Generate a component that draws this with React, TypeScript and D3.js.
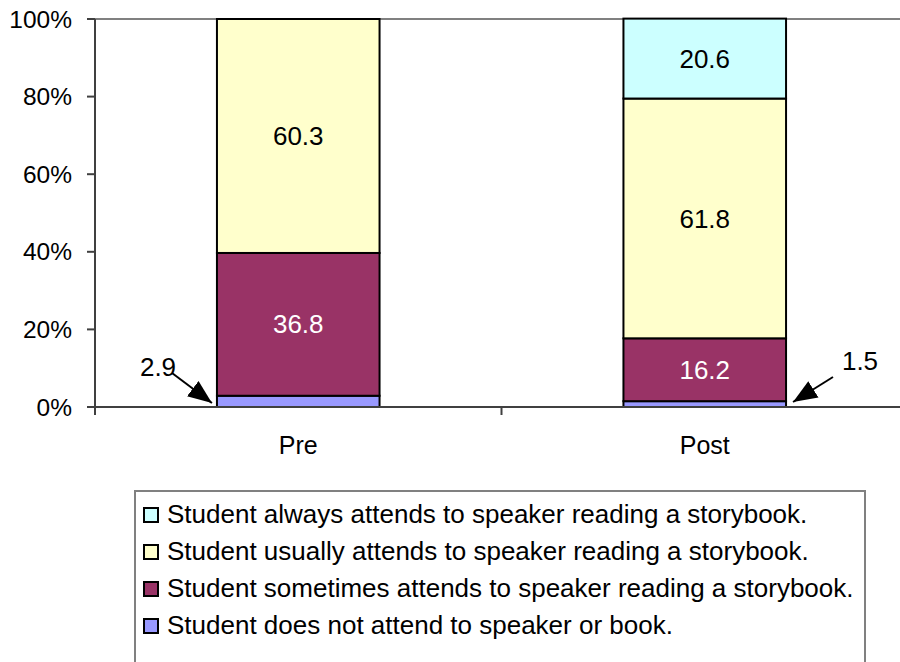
import React from "react";
import * as d3 from "d3";

const categories = ["Pre", "Post"];
const seriesNames = [
  "Student does not attend to speaker or book.",
  "Student sometimes attends to speaker reading a storybook.",
  "Student usually attends to speaker reading a storybook.",
  "Student always attends to speaker reading a storybook.",
];
const notAttend = [2.9, 1.5];
const sometimes = [36.8, 16.2];
const usually = [60.3, 61.8];
const always = [0, 20.6];
const seriesColors = ["#9999FF", "#993366", "#FFFFCC", "#CCFFFF"];
const labelColors = ["#000", "#fff", "#000", "#000"];
const yTicks = [0, 20, 40, 60, 80, 100];

const W = 900;
const H = 662;
const left = 95;
const right = 908;
const top = 19;
const bottom = 407;
const font = "Liberation Sans, Arial, sans-serif";

export default function App() {
  const values = [notAttend, sometimes, usually, always];
  const x = d3.scaleBand<string>().domain(categories).range([left, right]).paddingInner(0.6).paddingOuter(0.3);
  const y = d3.scaleLinear().domain([0, 100]).range([bottom, top]);
  const table = categories.map((c, i) => {
    const o: any = { cat: c };
    seriesNames.forEach((s, j) => (o[s] = values[j][i]));
    return o;
  });
  const stacked = d3.stack<any>().keys(seriesNames)(table);
  const step = x.step();

  const preX = x("Pre")!;
  const postX = x("Post")! + x.bandwidth();

  return (
    <svg width={W} height={H} style={{ display: "block", position: "absolute", left: 0, top: 0 }} fontFamily={font}>
      <defs>
        <marker id="ah" viewBox="0 0 10 10" refX="10" refY="5" markerWidth="24" markerHeight="24" markerUnits="userSpaceOnUse" orient="auto">
          <path d="M0,1 L10,5 L0,9 Z" fill="#000" />
        </marker>
      </defs>
      <rect width={W} height={H} fill="#fff" />
      <line x1={left - 8} x2={W} y1={y(100)} y2={y(100)} stroke="#808080" strokeWidth={2} />
      {stacked.map((layer, j) =>
        layer.map((d, i) => {
          const v = values[j][i];
          if (!v) return null;
          const bx = x(categories[i])!;
          return (
            <rect key={j + "-" + i} x={bx} y={y(d[1])} width={x.bandwidth()} height={y(d[0]) - y(d[1])}
              fill={seriesColors[j]} stroke="#000" strokeWidth={2} />
          );
        })
      )}
      {stacked.map((layer, j) =>
        layer.map((d, i) => {
          const v = values[j][i];
          if (!v || j === 0) return null;
          return (
            <text key={"l" + j + "-" + i} x={x(categories[i])! + x.bandwidth() / 2} y={y((d[0] + d[1]) / 2)}
              dy="0.35em" textAnchor="middle" fontSize={26} fill={labelColors[j]}>
              {v.toFixed(1)}
            </text>
          );
        })
      )}
      <line x1={left} x2={left} y1={top} y2={bottom + 8} stroke="#404040" strokeWidth={2} />
      <line x1={left} x2={W} y1={bottom} y2={bottom} stroke="#404040" strokeWidth={2} />
      {yTicks.map((t) => (
        <g key={t}>
          <line x1={left - 8} x2={left} y1={y(t)} y2={y(t)} stroke="#404040" strokeWidth={2} />
          <text x={72} y={y(t)} dy="0.35em" textAnchor="end" fontSize={24.5} fill="#000">{t}%</text>
        </g>
      ))}
      {[1].map((k) => (
        <line key={k} x1={left + step * k} x2={left + step * k} y1={bottom} y2={bottom + 8} stroke="#404040" strokeWidth={2} />
      ))}
      {categories.map((c) => (
        <text key={c} x={x(c)! + x.bandwidth() / 2} y={454} textAnchor="middle" fontSize={25} fill="#000">{c}</text>
      ))}
      <text x={158} y={376} textAnchor="middle" fontSize={26} fill="#000">{notAttend[0].toFixed(1)}</text>
      <line x1={172} y1={373} x2={preX - 5} y2={y(0) - 4} stroke="#000" strokeWidth={2} markerEnd="url(#ah)" />
      <text x={860} y={370} textAnchor="middle" fontSize={26} fill="#000">{notAttend[1].toFixed(1)}</text>
      <line x1={833} y1={377} x2={postX + 7} y2={y(0) - 5} stroke="#000" strokeWidth={2} markerEnd="url(#ah)" />
      <rect x={135} y={491} width={730} height={200} fill="#fff" stroke="#808080" strokeWidth={2} />
      {[3, 2, 1, 0].map((j, r) => (
        <g key={j} transform={`translate(0, ${523 + r * 37})`}>
          <rect x={144} y={-15} width={14} height={14} fill={seriesColors[j]} stroke="#000" strokeWidth={2} />
          <text x={167} y={0} fontSize={26} fill="#000">{seriesNames[j]}</text>
        </g>
      ))}
    </svg>
  );
}
